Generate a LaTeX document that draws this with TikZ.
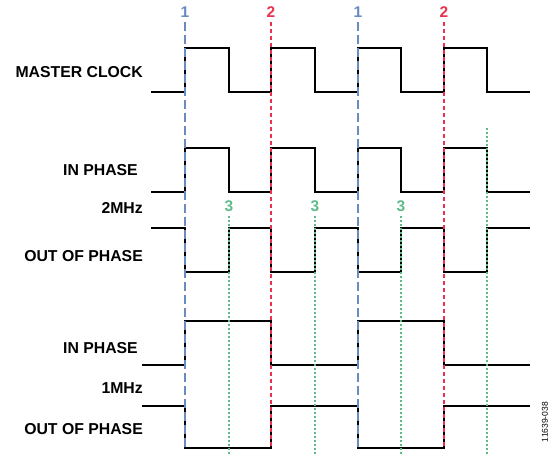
\documentclass[tikz,border=0pt]{standalone}
\usepackage{fontspec}
\setmainfont{Liberation Sans}
\definecolor{edgeblue}{HTML}{6A8BC0}
\definecolor{edgered}{HTML}{E8334F}
\definecolor{edgegreen}{HTML}{5FBA8A}
\tikzset{
  wave/.style={line width=2.4pt, black, line join=miter},
  sigtext/.style={anchor=east, font=\fontsize{15.8}{18}\selectfont\bfseries, inner sep=0pt},
  marktext/.style={font=\fontsize{15.5}{17}\selectfont\bfseries, inner sep=0pt},
  guideone/.style={edgeblue, line width=1.3pt, dash pattern=on 9pt off 4pt},
  guidetwo/.style={edgered, line width=1.3pt, dash pattern=on 4pt off 3pt},
  guidethree/.style={edgegreen, line width=1.1pt, dash pattern=on 2pt off 2pt}
}

\begin{document}
\begin{tikzpicture}[x=1pt, y=-1pt]
  \useasboundingbox (0,0) rectangle (549,455);

  % Signal names
  \node[sigtext] (mclk) at (143,72) {MASTER CLOCK};
  \node[sigtext] (inA) at (138,170) {IN PHASE};
  \node[sigtext] (fA) at (143,208) {2MHz};
  \node[sigtext] (outA) at (143,256) {OUT OF PHASE};
  \node[sigtext] (inB) at (138,348) {IN PHASE};
  \node[sigtext] (fB) at (143,388) {1MHz};
  \node[sigtext] (outB) at (143,429) {OUT OF PHASE};

  % Waveforms
  \draw[wave] (151,92) -| (185,48) -| (229,92) -| (271,48) -| (315,92) -| (358,48) -| (401,92) -| (444,48) -| (487,92) -- (530,92);
  \draw[wave] (151,192) -| (185,148) -| (229,192) -| (271,148) -| (315,192) -| (358,148) -| (401,192) -| (444,148) -| (487,192) -- (530,192);
  \draw[wave] (151,228) -| (185,272) -| (229,228) -| (271,272) -| (315,228) -| (358,272) -| (401,228) -| (444,272) -| (487,228) -- (530,228);
  \draw[wave] (142,365) -| (185,321) -| (271,365) -| (358,321) -| (444,365) -- (530,365);
  \draw[wave] (142,406) -| (185,448) -| (271,406) -| (358,448) -| (444,406) -- (530,406);

  % Edge markers
  \node[marktext, edgeblue] (one1) at (185,12) {1};
  \node[marktext, edgered] (two1) at (271,12) {2};
  \node[marktext, edgeblue] (one2) at (358,12) {1};
  \node[marktext, edgered] (two2) at (444,12) {2};
  \node[marktext, edgegreen] (three1) at (229,206) {3};
  \node[marktext, edgegreen] (three2) at (315,206) {3};
  \node[marktext, edgegreen] (three3) at (401,206) {3};

  \coordinate (one1end) at (185,448);
  \coordinate (two1end) at (271,448);
  \coordinate (one2end) at (358,448);
  \coordinate (two2end) at (444,448);
  \coordinate (three1end) at (229,455);
  \coordinate (three2end) at (315,455);
  \coordinate (three3end) at (401,455);
  \coordinate (fourtop) at (487,128);
  \coordinate (fourend) at (487,455);

  \draw[guideone] ([yshift=-4pt]one1.south) -- (one1end);
  \draw[guideone] ([yshift=-4pt]one2.south) -- (one2end);
  \draw[guidetwo] ([yshift=-4pt]two1.south) -- (two1end);
  \draw[guidetwo] ([yshift=-4pt]two2.south) -- (two2end);
  \draw[guidethree] ([yshift=-4pt]three1.south) -- (three1end);
  \draw[guidethree] ([yshift=-4pt]three2.south) -- (three2end);
  \draw[guidethree] ([yshift=-4pt]three3.south) -- (three3end);
  \draw[guidethree] (fourtop) -- (fourend);

  % Figure number
  \node[rotate=90, font=\fontsize{8.5}{10}\selectfont, inner sep=0pt] (fignum) at (545,422) {11639-038};
\end{tikzpicture}
\end{document}
